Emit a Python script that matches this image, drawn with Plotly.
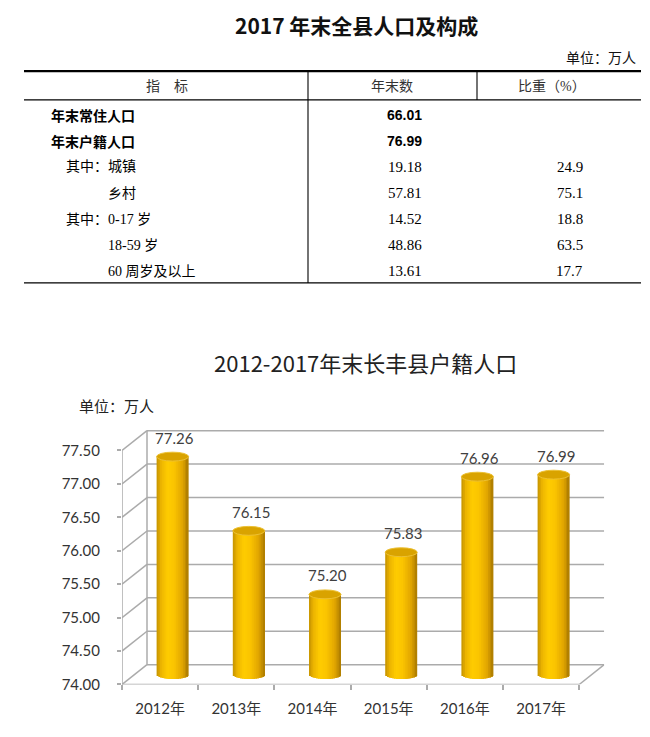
import math
import plotly.graph_objects as go

# ---------------- data ----------------
table_title = "2017 年末全县人口及构成"
table_unit = "单位：万人"
header_labels = ["指　标", "年末数", "比重（%）"]
row_labels = ["年末常住人口", "年末户籍人口", "其中：城镇", "乡村", "其中：0-17 岁", "18-59 岁", "60 周岁及以上"]
row_values = ["66.01", "76.99", "19.18", "57.81", "14.52", "48.86", "13.61"]
row_shares = ["", "", "24.9", "75.1", "18.8", "63.5", "17.7"]
row_indent = [0, 0, 1, 2, 1, 2, 2]
row_bold = [True, True, False, False, False, False, False]

chart_title = "2012-2017年末长丰县户籍人口"
chart_unit = "单位：万人"
years = ["2012年", "2013年", "2014年", "2015年", "2016年", "2017年"]
values = [77.26, 76.15, 75.20, 75.83, 76.96, 76.99]
y_ticks = [74.00, 74.50, 75.00, 75.50, 76.00, 76.50, 77.00, 77.50]

# ---------------- layout helpers ----------------
W, H = 650, 737
def px(x):
    return x / W
def py(y):
    return 1 - y / H

CJK = "Noto Sans CJK SC"
SERIF = "Liberation Serif, Noto Sans CJK SC"
CHARTF = "Lato, Noto Sans CJK SC"

fig = go.Figure()
shapes = []
ann = []

# ---------------- table ----------------
ann.append(dict(x=px(356), y=py(25), xref="paper", yref="paper", text="<b>" + table_title + "</b>",
                showarrow=False, font=dict(family=CJK, size=21, color="#111"), xanchor="center", yanchor="middle"))
ann.append(dict(x=px(638), y=py(58), xref="paper", yref="paper", text=table_unit,
                showarrow=False, font=dict(family=CJK, size=14, color="#111"), xanchor="right", yanchor="middle"))

def hline(x0, x1, y, w):
    shapes.append(dict(type="line", xref="paper", yref="paper", x0=px(x0), x1=px(x1), y0=py(y), y1=py(y),
                       line=dict(color="#000", width=w)))
def vline(x, y0, y1, w):
    shapes.append(dict(type="line", xref="paper", yref="paper", x0=px(x), x1=px(x), y0=py(y0), y1=py(y1),
                       line=dict(color="#000", width=w)))

hline(24, 641, 72, 2.2)
hline(24, 641, 101, 1.1)
hline(24, 641, 286, 1.3)
vline(308, 72, 286, 1.1)
vline(477, 72, 101, 1.1)

header_x = [167, 392, 552]
for hx, lab in zip(header_x, header_labels):
    ann.append(dict(x=px(hx), y=py(87), xref="paper", yref="paper", text=lab, showarrow=False,
                    font=dict(family=SERIF, size=14, color="#333"), xanchor="center", yanchor="middle"))

row_y0, row_dy = 116, 26.4
indent_x = [49, 64, 106]
for i, (lab, val, sh) in enumerate(zip(row_labels, row_values, row_shares)):
    y = row_y0 + i * row_dy
    if row_bold[i]:
        ann.append(dict(x=px(indent_x[row_indent[i]]), y=py(y), xref="paper", yref="paper", text="<b>" + lab + "</b>",
                        showarrow=False, font=dict(family=CJK, size=14, color="#000"), xanchor="left", yanchor="middle"))
        ann.append(dict(x=px(424), y=py(y), xref="paper", yref="paper", text="<b>" + val + "</b>",
                        showarrow=False, font=dict(family="Liberation Sans", size=14, color="#000"),
                        xanchor="right", yanchor="middle"))
    else:
        ann.append(dict(x=px(indent_x[row_indent[i]]), y=py(y), xref="paper", yref="paper", text=lab,
                        showarrow=False, font=dict(family=SERIF, size=14, color="#000"), xanchor="left", yanchor="middle"))
        ann.append(dict(x=px(424), y=py(y), xref="paper", yref="paper", text=val,
                        showarrow=False, font=dict(family=SERIF, size=15, color="#000"),
                        xanchor="right", yanchor="middle"))
    if sh:
        ann.append(dict(x=px(585), y=py(y), xref="paper", yref="paper", text=sh,
                        showarrow=False, font=dict(family=SERIF, size=15, color="#000"),
                        xanchor="right", yanchor="middle"))

# ---------------- chart ----------------
ann.append(dict(x=px(365), y=py(366), xref="paper", yref="paper", text=chart_title, showarrow=False,
                font=dict(family=CJK, size=22, color="#222"), xanchor="center", yanchor="middle"))
ann.append(dict(x=px(77), y=py(410), xref="paper", yref="paper", text=chart_unit, showarrow=False,
                font=dict(family=CJK, size=15, color="#222"), xanchor="left", yanchor="middle"))

n = len(years)
cat_px = 76.2          # pixels per category
val_px = 67.6          # pixels per value unit
dx = 25 / cat_px       # depth offset (x, data units)
dy = 20 / val_px       # depth offset (y, data units)
x_lo, x_hi = -0.5, n - 0.5 + dx
y_lo, y_hi = y_ticks[0], y_ticks[-1] + dy + 0.1
left_px = 122
bottom_px = 692
x_dom = [px(left_px), px(left_px + (x_hi - x_lo) * cat_px)]
y_dom = [py(bottom_px), py(bottom_px - (y_hi - y_lo) * val_px)]

grid_col = "#ababab"
gw = 1.5
def dline(x0, y0, x1, y1):
    shapes.append(dict(type="line", xref="x", yref="y", x0=x0, y0=y0, x1=x1, y1=y1, layer="below",
                       line=dict(color=grid_col, width=gw)))

for t in y_ticks:
    dline(x_lo + dx, t + dy, n - 0.5 + dx, t + dy)      # back wall
    dline(x_lo, t, x_lo + dx, t + dy)                   # side wall diagonals
dline(x_lo + dx, y_ticks[0] + dy, x_lo + dx, y_ticks[-1] + dy)  # back-left edge
dline(x_lo, y_ticks[0], x_lo, y_ticks[-1])                      # front value axis
dline(x_lo, y_ticks[0], n - 0.5, y_ticks[0])                    # front floor edge
dline(n - 0.5, y_ticks[0], n - 0.5 + dx, y_ticks[0] + dy)       # right floor edge

# cylinders built from vertical stripes
bw = 0.42
eh = 4.5 / val_px
floor_mid = y_ticks[0] + dy / 2
stops = [(0.0, (196, 146, 0)), (0.14, (236, 180, 0)), (0.34, (255, 204, 0)), (0.55, (250, 196, 0)),
         (0.80, (226, 166, 0)), (1.0, (170, 122, 0))]
def grad(t):
    for (a, ca), (b, cb) in zip(stops[:-1], stops[1:]):
        if a <= t <= b:
            f = (t - a) / (b - a)
            return "rgb(%d,%d,%d)" % tuple(round(ca[j] + f * (cb[j] - ca[j])) for j in range(3))
    return "rgb(%d,%d,%d)" % stops[-1][1]

N = 18
xc = [i + dx / 2 for i in range(n)]
tops = [v + dy / 2 for v in values]
for k in range(N):
    tc = (k + 0.5) / N
    tt = 2 * tc - 1
    base_k = floor_mid - eh * math.sqrt(max(0.0, 1 - tt * tt))
    wk = bw / N * (1.7 if k < N - 1 else 1.0)
    fig.add_trace(go.Bar(x=xc, y=[tp - base_k for tp in tops], base=[base_k] * n,
                         width=[wk] * n, offset=[-bw / 2 + k * bw / N] * n,
                         marker=dict(color=grad(tc), line=dict(width=0)),
                         hoverinfo="skip", showlegend=False))

for c, tp, v in zip(xc, tops, values):
    shapes.append(dict(type="circle", xref="x", yref="y", x0=c - bw / 2, x1=c + bw / 2,
                       y0=tp - eh, y1=tp + eh, fillcolor="#d9a300",
                       line=dict(color="#ecc033", width=1), layer="above"))
    ann.append(dict(x=c, y=tp, xref="x", yref="y", text="%.2f" % v, showarrow=False, yshift=19, xshift=2,
                    font=dict(family=CHARTF, size=15, color="#404040"), xanchor="center", yanchor="middle"))

fig.update_layout(
    width=W, height=H, autosize=False,
    margin=dict(l=0, r=0, t=0, b=0),
    paper_bgcolor="white", plot_bgcolor="white",
    barmode="overlay",
    shapes=shapes, annotations=ann,
    xaxis=dict(domain=x_dom, range=[x_lo, x_hi], tickvals=list(range(n)), ticktext=years,
               showgrid=False, zeroline=False, showline=False, ticks="",
               tickfont=dict(family=CHARTF, size=15, color="#333"), ticklabelstandoff=14,
               minor=dict(tickvals=[i - 0.5 for i in range(n + 1)], ticks="outside", ticklen=5,
                          tickcolor=grid_col, tickwidth=1.5, showgrid=False),
               fixedrange=True),
    yaxis=dict(domain=y_dom, range=[y_lo, y_hi], tickvals=y_ticks, ticktext=["%.2f" % t for t in y_ticks],
               showgrid=False, zeroline=False, showline=False, ticks="outside", ticklen=4,
               tickcolor=grid_col, tickwidth=1.5,
               tickfont=dict(family=CHARTF, size=15, color="#333"), ticklabelstandoff=14,
               fixedrange=True),
)

fig.write_html("out.html", config={"displayModeBar": False},
               post_script=("document.documentElement.style.margin='0px';"
                            "document.body.style.margin='0px';document.body.style.padding='0px';"
                            "document.body.style.overflow='hidden';"
                            "document.documentElement.style.overflow='hidden';"))
